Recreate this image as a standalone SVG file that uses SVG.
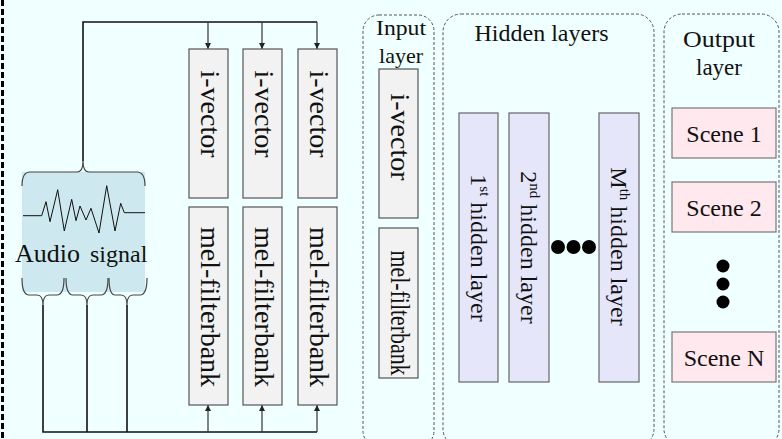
<svg xmlns="http://www.w3.org/2000/svg" width="782" height="439" viewBox="0 0 782 439">
  <defs>
    <marker id="arrow" viewBox="0 0 8 8" refX="8" refY="4" markerWidth="6" markerHeight="6" markerUnits="userSpaceOnUse" orient="auto">
      <path d="M0,0 L8,4 L0,8 Z" fill="#222"/>
    </marker>
    <style>
      text { font-family: "Liberation Serif", "Times New Roman", serif; fill: #111; }
      .wire { fill: none; stroke: #111; stroke-width: 1.6; }
      .stem { fill: none; stroke: #333; stroke-width: 1.2; marker-end: url(#arrow); }
      .brace { fill: none; stroke: #444; stroke-width: 1.2; }
      .feat { fill: #f2f2f2; stroke: #555; stroke-width: 1.2; }
      .hid { fill: #e6e6fa; stroke: #666; stroke-width: 1.2; }
      .scene { fill: #ffe8ee; stroke: #777; stroke-width: 1.2; }
      .group { fill: none; stroke: #555; stroke-width: 1; stroke-dasharray: 3 2; }
      .vt { font-size: 28px; text-anchor: middle; }
      .ht { font-size: 24px; text-anchor: middle; }
    </style>
  </defs>

  <!-- background -->
  <rect x="0" y="0" width="782" height="439" fill="#f0ffff"/>
  <!-- left dashed border -->
  <line x1="2.5" y1="0" x2="2.5" y2="439" stroke="#000" stroke-width="3" stroke-dasharray="6 3"/>

  <!-- audio signal source -->
  <g id="audio-signal">
    <rect x="22" y="172" width="123" height="120" fill="#cde9ef"/>
    <path class="brace" d="M22,186 Q22,172 30,172 L77,172 Q83,172 83,161 Q83,172 89,172 L137,172 Q145,172 145,186"/>
    <path class="brace" d="M22,278 Q22,295 29,295 L37,295 Q43,295 43,305 Q43,295 49,295 L57,295 Q64,295 64,278"/>
    <path class="brace" d="M66,278 Q66,295 73,295 L81,295 Q87,295 87,305 Q87,295 93,295 L101,295 Q108,295 108,278"/>
    <path class="brace" d="M109,278 Q109,295 115,295 L121,295 Q127,295 127,305 Q127,295 133,295 L140,295 Q147,295 147,278"/>
    <polyline fill="none" stroke="#111" stroke-width="1" points="23,215.7 41.7,215.7 46,201.7 50,221.7 57.7,189.7 64.3,231 71.7,199.3 76,220.7 80,206 86,220 91,208.3 99,233 106.7,185.7 115,231 120.7,203.3 124.3,212.7 145,212.7"/>
    <text x="15" y="262" font-size="26">Audio</text>
    <text x="90" y="262" font-size="24">signal</text>
  </g>

  <!-- connectors -->
  <g id="connectors">
    <path class="wire" d="M83,161 V22 H317"/>
    <path class="stem" d="M208,22 V49"/>
    <path class="stem" d="M262,22 V49"/>
    <path class="stem" d="M317,22 V49"/>
    <path class="wire" d="M43,305 V432 H317"/>
    <path class="wire" d="M87,305 V432"/>
    <path class="wire" d="M127,305 V432"/>
    <path class="stem" d="M208,432 V405"/>
    <path class="stem" d="M262,432 V405"/>
    <path class="stem" d="M317,432 V405"/>
  </g>

  <!-- per-frame feature columns -->
  <g id="ivector-1">
    <rect class="feat" x="189" y="49" width="39" height="149"/>
    <text class="vt" transform="translate(208.5,114) rotate(90)" y="8">i-vector</text>
  </g>
  <g id="ivector-2">
    <rect class="feat" x="243" y="49" width="39" height="149"/>
    <text class="vt" transform="translate(262.5,114) rotate(90)" y="8">i-vector</text>
  </g>
  <g id="ivector-3">
    <rect class="feat" x="298" y="49" width="39" height="149"/>
    <text class="vt" transform="translate(317.5,114) rotate(90)" y="8">i-vector</text>
  </g>
  <g id="melfb-1">
    <rect class="feat" x="189" y="207" width="39" height="198"/>
    <text class="vt" transform="translate(208.5,307) rotate(90)" y="8">mel-filterbank</text>
  </g>
  <g id="melfb-2">
    <rect class="feat" x="243" y="207" width="39" height="198"/>
    <text class="vt" transform="translate(262.5,307) rotate(90)" y="8">mel-filterbank</text>
  </g>
  <g id="melfb-3">
    <rect class="feat" x="298" y="207" width="39" height="198"/>
    <text class="vt" transform="translate(317.5,307) rotate(90)" y="8">mel-filterbank</text>
  </g>

  <!-- input layer -->
  <g id="input-layer">
    <rect class="group" x="363" y="15" width="71" height="432" rx="16"/>
    <text x="401" y="35" font-size="21" text-anchor="middle" textLength="50" lengthAdjust="spacingAndGlyphs">Input</text>
    <text x="401" y="63" font-size="22" text-anchor="middle">layer</text>
    <rect class="feat" x="379" y="69" width="39" height="149"/>
    <text class="vt" transform="translate(398.5,137) rotate(90)" y="8">i-vector</text>
    <rect class="feat" x="379" y="228" width="39" height="150"/>
    <text class="vt" transform="translate(398.5,313) rotate(90)" y="8" textLength="125" lengthAdjust="spacingAndGlyphs">mel-filterbank</text>
  </g>

  <!-- hidden layers -->
  <g id="hidden-layers">
    <rect class="group" x="443" y="14" width="211" height="433" rx="18"/>
    <text class="ht" x="541.5" y="41">Hidden layers</text>
    <rect class="hid" x="459" y="113" width="39" height="269"/>
    <text class="ht" transform="translate(478.5,248) rotate(90)" y="8">1<tspan font-size="15" dy="-9">st</tspan><tspan dy="9"> hidden layer</tspan></text>
    <rect class="hid" x="509" y="113" width="40" height="269"/>
    <text class="ht" transform="translate(529,247.5) rotate(90)" y="8">2<tspan font-size="15" dy="-9">nd</tspan><tspan dy="9"> hidden layer</tspan></text>
    <rect class="hid" x="599" y="113" width="40" height="269"/>
    <text class="ht" transform="translate(619,246.5) rotate(90)" y="8">M<tspan font-size="15" dy="-9">th</tspan><tspan dy="9"> hidden layer</tspan></text>
    <circle cx="558" cy="247" r="7" fill="#000"/>
    <circle cx="573.5" cy="247" r="7" fill="#000"/>
    <circle cx="589" cy="247" r="7" fill="#000"/>
  </g>

  <!-- output layer -->
  <g id="output-layer">
    <rect class="group" x="664" y="14" width="115" height="433" rx="18"/>
    <text x="719" y="47" font-size="24" text-anchor="middle" textLength="72" lengthAdjust="spacingAndGlyphs">Output</text>
    <text x="719" y="75" font-size="23" text-anchor="middle">layer</text>
  </g>
  <g id="scene-1">
    <rect class="scene" x="672" y="108" width="104" height="50"/>
    <text class="ht" x="724" y="142">Scene 1</text>
  </g>
  <g id="scene-2">
    <rect class="scene" x="672" y="182" width="104" height="50"/>
    <text class="ht" x="724" y="216">Scene 2</text>
  </g>
  <g id="scene-dots">
    <circle cx="723" cy="266" r="6.5" fill="#000"/>
    <circle cx="723" cy="284" r="6.5" fill="#000"/>
    <circle cx="723" cy="302" r="6.5" fill="#000"/>
  </g>
  <g id="scene-n">
    <rect class="scene" x="672" y="332" width="104" height="50"/>
    <text class="ht" x="724" y="366">Scene N</text>
  </g>
</svg>
